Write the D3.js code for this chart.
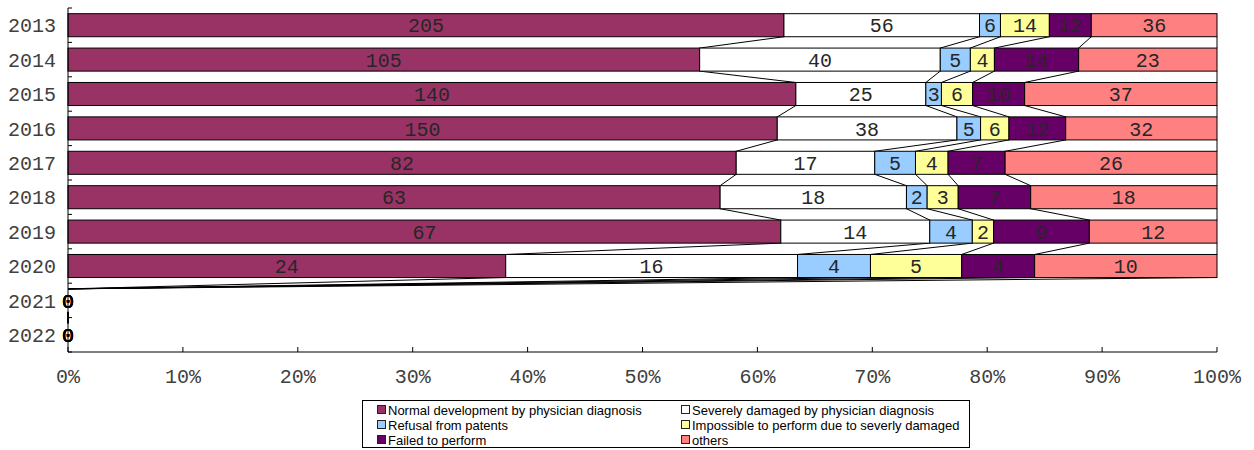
<!DOCTYPE html>
<html>
<head>
<meta charset="utf-8">
<script src="https://cdn.jsdelivr.net/npm/d3@7"></script>
<style>
  body { margin: 0; background: #fff; }
  svg { display: block; }
</style>
</head>
<body>
<svg id="chart" width="1254" height="450"></svg>
<script>
const years = ["2013","2014","2015","2016","2017","2018","2019","2020","2021","2022"];
const seriesNames = [
  "Normal development by physician diagnosis",
  "Severely damaged by physician diagnosis",
  "Refusal from patents",
  "Impossible to perform due to severly damaged",
  "Failed to perform",
  "others"
];
const normalDev   = [205, 105, 140, 150, 82, 63, 67, 24, 0, 0];
const severelyDmg = [56, 40, 25, 38, 17, 18, 14, 16, 0, 0];
const refusal     = [6, 5, 3, 5, 5, 2, 4, 4, 0, 0];
const impossible  = [14, 4, 6, 6, 4, 3, 2, 5, 0, 0];
const failed      = [12, 14, 10, 12, 7, 7, 9, 4, 0, 0];
const others      = [36, 23, 37, 32, 26, 18, 12, 10, 0, 0];
const seriesColors = ["#993366", "#FFFFFF", "#99CCFF", "#FFFF99", "#660066", "#FF8080"];
const xTicks = [0, 0.1, 0.2, 0.3, 0.4, 0.5, 0.6, 0.7, 0.8, 0.9, 1.0];

(function () {
const allSeries = [normalDev, severelyDmg, refusal, impossible, failed, others];

const svg = d3.select("#chart");
const pLeft = 68, pRight = 1217, pTop = 8, pBottom = 352;

const x = d3.scaleLinear().domain([0, 1]).range([pLeft, pRight]);
const y = d3.scaleBand().domain(years).range([pTop, pBottom]).paddingInner(0.33).paddingOuter(0.165);

const stacks = years.map((yr, i) => {
  const total = d3.sum(allSeries, s => s[i]);
  let cum = 0;
  return allSeries.map((s, k) => {
    const v = s[i];
    const p = total > 0 ? v / total : 0;
    const seg = { year: yr, k, v, x0: cum, x1: cum + p };
    cum += p;
    return seg;
  });
});

const mono = "'Liberation Mono', 'Courier New', monospace";

// series lines
const lineG = svg.append("g");
for (let i = 0; i < years.length - 1; i++) {
  const yb = y(years[i]) + y.bandwidth();
  const yt = y(years[i + 1]);
  stacks[i].forEach((seg, k) => {
    const nxt = stacks[i + 1][k];
    lineG.append("line")
      .attr("x1", x(seg.x1)).attr("y1", yb)
      .attr("x2", x(nxt.x1)).attr("y2", yt)
      .attr("stroke", "#000").attr("stroke-width", 1);
  });
}

// bars
const barG = svg.append("g");
stacks.forEach(row => {
  row.forEach(seg => {
    barG.append("rect")
      .attr("x", x(seg.x0))
      .attr("y", y(seg.year))
      .attr("width", Math.max(0, x(seg.x1) - x(seg.x0)))
      .attr("height", y.bandwidth())
      .attr("fill", seriesColors[seg.k])
      .attr("stroke", "#000")
      .attr("stroke-width", 1);
  });
});

// data labels
const labG = svg.append("g");
stacks.forEach(row => {
  row.forEach(seg => {
    labG.append("text")
      .attr("x", (x(seg.x0) + x(seg.x1)) / 2)
      .attr("y", y(seg.year) + y.bandwidth() / 2)
      .attr("dy", "0.36em")
      .attr("text-anchor", "middle")
      .attr("font-family", mono)
      .attr("font-size", 20)
      .attr("fill", seg.v === 0 ? "#000" : "#262626")
      .text(seg.v);
  });
});

// y axis
const yAxisG = svg.append("g");
yAxisG.append("line").attr("x1", pLeft).attr("x2", pLeft).attr("y1", pTop).attr("y2", pBottom).attr("stroke", "#000");
const boundaries = years.map(yr => y(yr) - y.step() * y.paddingInner() / 2).concat([pBottom]);
boundaries.forEach(b => {
  yAxisG.append("line").attr("x1", pLeft).attr("x2", pLeft + 4).attr("y1", b).attr("y2", b).attr("stroke", "#000");
});
years.forEach(yr => {
  yAxisG.append("text")
    .attr("x", 56)
    .attr("y", y(yr) + y.bandwidth() / 2)
    .attr("dy", "0.36em")
    .attr("text-anchor", "end")
    .attr("font-family", mono)
    .attr("font-size", 20)
    .attr("fill", "#404040")
    .text(yr);
});

// x axis
const xAxisG = svg.append("g");
xAxisG.append("line").attr("x1", pLeft).attr("x2", pRight).attr("y1", pBottom).attr("y2", pBottom).attr("stroke", "#000");
xTicks.forEach(t => {
  xAxisG.append("line").attr("x1", x(t)).attr("x2", x(t)).attr("y1", pBottom).attr("y2", pBottom - 5).attr("stroke", "#000");
  xAxisG.append("text")
    .attr("x", x(t))
    .attr("y", 383)
    .attr("text-anchor", "middle")
    .attr("font-family", mono)
    .attr("font-size", 20)
    .attr("fill", "#404040")
    .text(d3.format(".0%")(t));
});

// legend
const legG = svg.append("g");
legG.append("rect").attr("x", 362.5).attr("y", 400.5).attr("width", 607).attr("height", 47)
  .attr("fill", "#fff").attr("stroke", "#000");
const legCols = [377, 681];
const legRows = [410, 425, 440];
seriesNames.forEach((name, k) => {
  const mx = legCols[k % 2], cy = legRows[Math.floor(k / 2)];
  legG.append("rect").attr("x", mx + 0.5).attr("y", cy - 4.5).attr("width", 8).attr("height", 8)
    .attr("fill", seriesColors[k]).attr("stroke", "#222");
  legG.append("text").attr("x", mx + 11).attr("y", cy).attr("dy", "0.36em")
    .attr("font-family", "'Liberation Sans', Arial, sans-serif").attr("font-size", 13)
    .attr("fill", "#000").text(name);
});
})();
</script>
</body>
</html>
